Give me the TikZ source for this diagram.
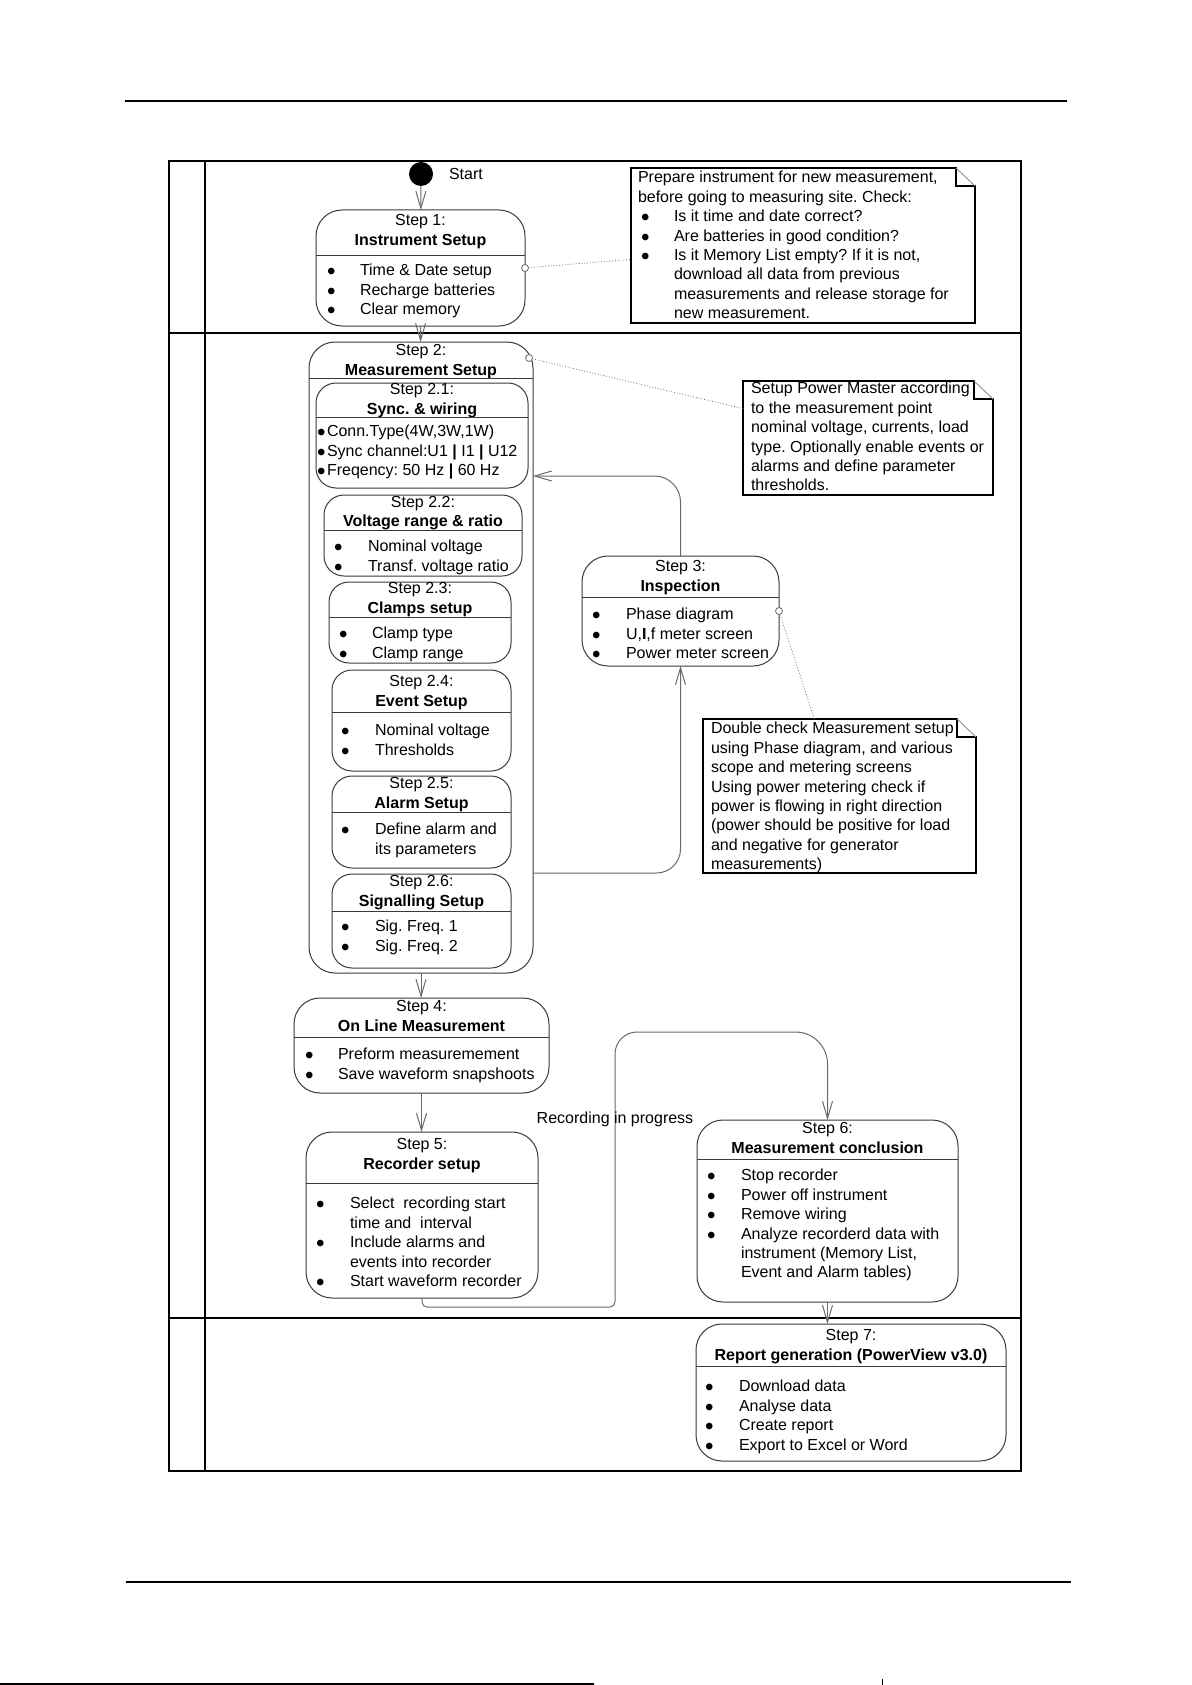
\documentclass[tikz,border=0pt]{standalone}
\usepackage{fontspec}
\setmainfont{Liberation Sans}
\usetikzlibrary{arrows.meta,fit,calc}
\frenchspacing

\definecolor{edge_gray}{HTML}{3A3A3A}
\definecolor{link_gray}{HTML}{6A6A6A}

\newcommand{\itembullet}{$\bullet$}

\tikzset{
  txt/.style={inner sep=0pt, outer sep=0pt, font=\fontsize{8}{9.7}\selectfont},
  state_box/.style={draw=edge_gray, line width=0.5pt, rounded corners=13pt, inner sep=0pt},
  sub_box/.style={draw=edge_gray, line width=0.5pt, rounded corners=10pt, inner sep=0pt},
  note_box/.style={inner sep=0pt},
  box_line/.style={draw=edge_gray, line width=0.5pt},
  flow/.style={draw=link_gray, line width=0.5pt, -{Straight Barb[length=8.5pt,width=5pt]}},
  note_link/.style={draw=link_gray, line width=0.4pt, densely dotted},
  link_dot/.style={circle, draw=link_gray, fill=white, line width=0.4pt, minimum size=3.5pt, inner sep=0pt},
  frame_line/.style={line width=1pt, black},
}

\begin{document}
\begin{tikzpicture}[x=0.5pt, y=-0.5pt, inner sep=0pt, outer sep=0pt]
    \useasboundingbox (0,0) rectangle (1191,1685);

    % page rules
    \draw[line width=1.15pt] (125,101) -- (1067,101);
    \draw[line width=1pt] (126,1582) -- (1071,1582);
    \draw[line width=1pt] (0,1684) -- (594,1684);
    \draw[line width=0.5pt] (882,1679) -- (882,1685);

    % swimlanes
    \draw[frame_line] (169,161) rectangle (1021,1471);
    \draw[frame_line] (205,161) -- (205,1471);
    \draw[frame_line] (169,333) -- (1021,333);
    \draw[frame_line] (169,1318) -- (1021,1318);

    % start
    \node[circle, fill=black, minimum size=12pt] (start) at (421,174) {};
    \node[txt, anchor=west] (start_label) at (449,174) {Start};

    % step 1
    \node[state_box, fit={(316,210) (525,326)}] (step_1) {};
    \node[txt, anchor=north] (step_1_title) at (step_1.north |- 0,212.4)
    {\begin{tabular}{@{}c@{}}Step 1:\\ \textbf{Instrument Setup}\end{tabular}};
    \node[txt, anchor=north west] (step_1_items) at (327,262.4)
    {
    \begin{tabular}{@{}p{16.5pt}@{}l@{}}
    \itembullet & Time \& Date setup \\
    \itembullet & Recharge batteries \\
    \itembullet & Clear memory \\
    \end{tabular}
    };

    % note 1
    \node[note_box, fit={(631,168) (975,323)}] (note_1) {};
    \node[txt, anchor=north west] (note_1_text) at (638,169.4)
    {
    \begin{tabular}{@{}p{18pt}@{}l@{}}
    \multicolumn{2}{@{}l@{}}{Prepare instrument for new measurement,} \\
    \multicolumn{2}{@{}l@{}}{before going to measuring site. Check:} \\
    \hspace{1.5pt}\itembullet & Is it time and date correct? \\
    \hspace{1.5pt}\itembullet & Are batteries in good condition? \\
    \hspace{1.5pt}\itembullet & Is it Memory List empty? If it is not, \\
     & download all data from previous \\
     & measurements and release storage for \\
     & new measurement. \\
    \end{tabular}
    };

    % step 2
    \node[state_box, fit={(309,342) (533,973)}] (step_2) {};
    \node[txt, anchor=north] (step_2_title) at (step_2.north |- 0,342.4)
    {\begin{tabular}{@{}c@{}}Step 2:\\ \textbf{Measurement Setup}\end{tabular}};

    % step 2.1
    \node[sub_box, fit={(316,383) (528,488)}] (step_2_1) {};
    \node[txt, anchor=north] (step_2_1_title) at (step_2_1.north |- 0,381.4)
    {\begin{tabular}{@{}c@{}}Step 2.1:\\ \textbf{Sync. \& wiring}\end{tabular}};
    \node[txt, anchor=north west] (step_2_1_items) at (317,423.4)
    {
    \begin{tabular}{@{}p{5pt}@{}l@{}}
    \itembullet & Conn.Type(4W,3W,1W) \\
    \itembullet & Sync channel:U1 \textbf{|} I1 \textbf{|} U12 \\
    \itembullet & Freqency: 50 Hz \textbf{|} 60 Hz \\
    \end{tabular}
    };

    % step 2.2
    \node[sub_box, fit={(324,495) (522,576)}] (step_2_2) {};
    \node[txt, anchor=north] (step_2_2_title) at (step_2_2.north |- 0,494)
    {\begin{tabular}{@{}c@{}}Step 2.2:\\ \textbf{Voltage range \& ratio}\end{tabular}};
    \node[txt, anchor=north west] (step_2_2_items) at (334,538.4)
    {
    \begin{tabular}{@{}p{17pt}@{}l@{}}
    \itembullet & Nominal voltage \\
    \itembullet & Transf. voltage ratio \\
    \end{tabular}
    };

    % step 2.3
    \node[sub_box, fit={(329,582) (511,663)}] (step_2_3) {};
    \node[txt, anchor=north] (step_2_3_title) at (step_2_3.north |- 0,580.4)
    {\begin{tabular}{@{}c@{}}Step 2.3:\\ \textbf{Clamps setup}\end{tabular}};
    \node[txt, anchor=north west] (step_2_3_items) at (339,625.4)
    {
    \begin{tabular}{@{}p{16.5pt}@{}l@{}}
    \itembullet & Clamp type \\
    \itembullet & Clamp range \\
    \end{tabular}
    };

    % step 2.4
    \node[sub_box, fit={(332,670) (511,771)}] (step_2_4) {};
    \node[txt, anchor=north] (step_2_4_title) at (step_2_4.north |- 0,673.4)
    {\begin{tabular}{@{}c@{}}Step 2.4:\\ \textbf{Event Setup}\end{tabular}};
    \node[txt, anchor=north west] (step_2_4_items) at (341,722.4)
    {
    \begin{tabular}{@{}p{17pt}@{}l@{}}
    \itembullet & Nominal voltage \\
    \itembullet & Thresholds \\
    \end{tabular}
    };

    % step 2.5
    \node[sub_box, fit={(332,776) (511,868)}] (step_2_5) {};
    \node[txt, anchor=north] (step_2_5_title) at (step_2_5.north |- 0,775.4)
    {\begin{tabular}{@{}c@{}}Step 2.5:\\ \textbf{Alarm Setup}\end{tabular}};
    \node[txt, anchor=north west] (step_2_5_items) at (341,821.4)
    {
    \begin{tabular}{@{}p{17pt}@{}l@{}}
    \itembullet & Define alarm and \\
     & its parameters \\
    \end{tabular}
    };

    % step 2.6
    \node[sub_box, fit={(332,874) (511,968)}] (step_2_6) {};
    \node[txt, anchor=north] (step_2_6_title) at (step_2_6.north |- 0,873.4)
    {\begin{tabular}{@{}c@{}}Step 2.6:\\ \textbf{Signalling Setup}\end{tabular}};
    \node[txt, anchor=north west] (step_2_6_items) at (341,918.4)
    {
    \begin{tabular}{@{}p{17pt}@{}l@{}}
    \itembullet & Sig. Freq. 1 \\
    \itembullet & Sig. Freq. 2 \\
    \end{tabular}
    };

    % note 2
    \node[note_box, fit={(743,381) (993,495)}] (note_2) {};
    \node[txt, anchor=north west] (note_2_text) at (751,380.4)
    {
    \begin{tabular}{@{}l@{}}
    Setup Power Master according \\
    to the measurement point \\
    nominal voltage, currents, load \\
    type. Optionally enable events or \\
    alarms and define parameter \\
    thresholds. \\
    \end{tabular}
    };

    % step 3
    \node[state_box, fit={(582,556) (779,666)}] (step_3) {};
    \node[txt, anchor=north] (step_3_title) at (step_3.north |- 0,558.4)
    {\begin{tabular}{@{}c@{}}Step 3:\\ \textbf{Inspection}\end{tabular}};
    \node[txt, anchor=north west] (step_3_items) at (592,606.4)
    {
    \begin{tabular}{@{}p{17pt}@{}l@{}}
    \itembullet & Phase diagram \\
    \itembullet & U,\textbf{I},f meter screen \\
    \itembullet & Power meter screen \\
    \end{tabular}
    };

    % note 3
    \node[note_box, fit={(703,719) (976,873)}] (note_3) {};
    \node[txt, anchor=north west] (note_3_text) at (711,720.4)
    {
    \begin{tabular}{@{}l@{}}
    Double check Measurement setup \\
    using Phase diagram, and various \\
    scope and metering screens \\
    Using power metering check if \\
    power is flowing in right direction \\
    (power should be positive for load \\
    and negative for generator \\
    measurements) \\
    \end{tabular}
    };

    % step 4
    \node[state_box, fit={(294,998) (549,1093)}] (step_4) {};
    \node[txt, anchor=north] (step_4_title) at (step_4.north |- 0,998.4)
    {\begin{tabular}{@{}c@{}}Step 4:\\ \textbf{On Line Measurement}\end{tabular}};
    \node[txt, anchor=north west] (step_4_items) at (305,1046.4)
    {
    \begin{tabular}{@{}p{16.5pt}@{}l@{}}
    \itembullet & Preform measuremement \\
    \itembullet & Save waveform snapshoots \\
    \end{tabular}
    };

    % step 5
    \node[state_box, fit={(306,1132) (538,1298)}] (step_5) {};
    \node[txt, anchor=north] (step_5_title) at (step_5.north |- 0,1136.4)
    {\begin{tabular}{@{}c@{}}Step 5:\\ \textbf{Recorder setup}\end{tabular}};
    \node[txt, anchor=north west] (step_5_items) at (316,1195.4)
    {
    \begin{tabular}{@{}p{17pt}@{}l@{}}
    \itembullet & Select~ recording start \\
     & time and~ interval \\
    \itembullet & Include alarms and \\
     & events into recorder \\
    \itembullet & Start waveform recorder \\
    \end{tabular}
    };

    % step 6
    \node[state_box, fit={(697,1120) (958,1302)}] (step_6) {};
    \node[txt, anchor=north] (step_6_title) at (step_6.north |- 0,1120.4)
    {\begin{tabular}{@{}c@{}}Step 6:\\ \textbf{Measurement conclusion}\end{tabular}};
    \node[txt, anchor=north west] (step_6_items) at (707,1167.4)
    {
    \begin{tabular}{@{}p{17pt}@{}l@{}}
    \itembullet & Stop recorder \\
    \itembullet & Power off instrument \\
    \itembullet & Remove wiring \\
    \itembullet & Analyze recorderd data with \\
     & instrument (Memory List, \\
     & Event and Alarm tables) \\
    \end{tabular}
    };

    % step 7
    \node[state_box, fit={(696,1324) (1006,1461)}] (step_7) {};
    \node[txt, anchor=north] (step_7_title) at (step_7.north |- 0,1327.4)
    {\begin{tabular}{@{}c@{}}Step 7:\\ \textbf{Report generation (PowerView v3.0)}\end{tabular}};
    \node[txt, anchor=north west] (step_7_items) at (705,1378.4)
    {
    \begin{tabular}{@{}p{17pt}@{}l@{}}
    \itembullet & Download data \\
    \itembullet & Analyse data \\
    \itembullet & Create report \\
    \itembullet & Export to Excel or Word \\
    \end{tabular}
    };

    % title dividers
    \foreach \bname/\ypos in {step_1/255, step_2/378, step_2_1/417, step_2_2/530,
        step_2_3/617, step_2_4/712, step_2_5/812, step_2_6/911, step_3/597,
        step_4/1037, step_5/1183, step_6/1159, step_7/1366}
        \draw[box_line] (\bname.west |- 0,\ypos) -- (\bname.east |- 0,\ypos);

    % note outlines with folded corner
    \foreach \nname in {note_1, note_2, note_3}
    {
        \draw[line width=0.6pt] (\nname.north west) -- ([xshift=-9.5pt]\nname.north east)
            |- ([yshift=-9pt]\nname.north east) -- (\nname.south east)
            -- (\nname.south west) -- cycle;
        \draw[link_gray!70, line width=0.5pt]
            ([xshift=-9.5pt]\nname.north east) -- ([yshift=-9pt]\nname.north east);
    }

    % note links
    \node[link_dot] (dot_1) at (step_1.east |- 0,268) {};
    \node[link_dot] (dot_2) at (529,358) {};
    \node[link_dot] (dot_3) at (step_3.east |- 0,611) {};
    \draw[note_link] (dot_1) -- (note_1);
    \draw[note_link] (dot_2) -- (note_2);
    \draw[note_link] (dot_3) -- (note_3);

    % transitions
    \draw[flow] (start) -- (step_1);
    \draw[flow] (step_1) -- (step_2);
    \draw[flow, rounded corners=12pt] (step_2.east |- 0,873) -| (step_3.south);
    \draw[flow, rounded corners=13pt] (step_3.north) |- (step_2.east |- 0,476);
    \draw[flow] (step_2.south) -- (step_2.south |- step_4.north);
    \draw[flow] (step_4.south) -- (step_4.south |- step_5.north);
    \coordinate (rec_bottom) at (615,1307);
    \coordinate (rec_top) at (615,1032);
    \draw[flow] (step_5.south) [rounded corners=2.5pt] |- (rec_bottom)
        [rounded corners=11pt] -- (rec_top)
        [rounded corners=16pt] -| (step_6.north);
    \node[txt] (rec_label) at (615,1119) {Recording in progress};
    \draw[flow] (step_6.south) -- (step_6.south |- step_7.north);

\end{tikzpicture}
\end{document}
